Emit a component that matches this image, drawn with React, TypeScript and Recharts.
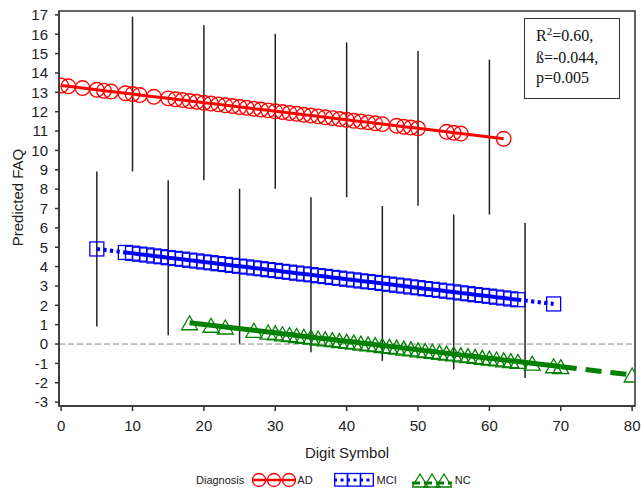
import {
  ScatterChart,
  Scatter,
  XAxis,
  YAxis,
  ReferenceLine,
  ReferenceArea,
} from 'recharts';

const xTicks = [0, 10, 20, 30, 40, 50, 60, 70, 80];
const yTicks = [-3, -2, -1, 0, 1, 2, 3, 4, 5, 6, 7, 8, 9, 10, 11, 12, 13, 14, 15, 16, 17];
const xDomain = [-0.3, 80.4];
const yDomain = [-3.2, 17.2];

// AD (red circles, solid line)
const adX = [0, 1, 3, 5, 6, 7, 9, 10, 11, 13, 15, 16, 17, 18, 19, 20, 21, 22, 23, 24, 25, 26, 27, 28, 29, 30, 31, 32, 33, 34, 35, 36, 37, 38, 39, 40, 41, 42, 43, 44, 45, 47, 48, 49, 50, 54, 55, 56, 62];
const adY = [13.35, 13.31, 13.22, 13.13, 13.08, 13.04, 12.95, 12.91, 12.86, 12.77, 12.69, 12.64, 12.6, 12.55, 12.51, 12.46, 12.42, 12.38, 12.33, 12.29, 12.24, 12.2, 12.15, 12.11, 12.07, 12.02, 11.98, 11.93, 11.89, 11.84, 11.8, 11.76, 11.71, 11.67, 11.62, 11.58, 11.53, 11.49, 11.45, 11.4, 11.36, 11.27, 11.22, 11.18, 11.14, 10.96, 10.91, 10.87, 10.6];

// MCI (blue squares, dotted line)
const mciX = [5, 9, 10, 11, 12, 13, 14, 15, 16, 17, 18, 19, 20, 21, 22, 23, 24, 25, 26, 27, 28, 29, 30, 31, 32, 33, 34, 35, 36, 37, 38, 39, 40, 41, 42, 43, 44, 45, 46, 47, 48, 49, 50, 51, 52, 53, 54, 55, 56, 57, 58, 59, 60, 61, 62, 63, 64, 69];
const mciY = [4.91, 4.73, 4.69, 4.64, 4.6, 4.55, 4.51, 4.46, 4.42, 4.38, 4.33, 4.29, 4.24, 4.2, 4.15, 4.11, 4.06, 4.02, 3.98, 3.93, 3.89, 3.84, 3.8, 3.75, 3.71, 3.66, 3.62, 3.58, 3.53, 3.49, 3.44, 3.4, 3.35, 3.31, 3.26, 3.22, 3.18, 3.13, 3.09, 3.04, 3.0, 2.95, 2.91, 2.86, 2.82, 2.78, 2.73, 2.69, 2.64, 2.6, 2.55, 2.51, 2.47, 2.42, 2.38, 2.33, 2.29, 2.07];

// NC (green triangles, dashed line)
const ncX = [18, 21, 23, 27, 29, 30, 31, 32, 33, 34, 35, 36, 37, 38, 39, 40, 41, 42, 43, 44, 45, 46, 47, 48, 49, 50, 51, 52, 53, 54, 55, 56, 57, 58, 59, 60, 61, 62, 63, 64, 66, 69, 70, 80];
const ncY = [1.1, 0.97, 0.88, 0.71, 0.62, 0.58, 0.53, 0.49, 0.44, 0.4, 0.36, 0.31, 0.27, 0.23, 0.18, 0.14, 0.1, 0.05, 0.01, -0.03, -0.08, -0.12, -0.16, -0.21, -0.25, -0.3, -0.34, -0.38, -0.43, -0.47, -0.51, -0.56, -0.6, -0.64, -0.69, -0.73, -0.77, -0.82, -0.86, -0.9, -0.99, -1.12, -1.17, -1.6];

// vertical interval bars
const barX = [5, 10, 15, 20, 25, 30, 35, 40, 45, 50, 55, 60, 65];
const barLow = [0.91, 8.91, 0.46, 8.46, 0.02, 8.02, -0.42, 7.58, -0.87, 7.14, -1.31, 6.69, -1.75];
const barHigh = [8.91, 16.91, 8.46, 16.46, 8.02, 16.02, 7.58, 15.58, 7.13, 15.14, 6.69, 14.69, 6.25];

const toPts = (xs: number[], ys: number[]) => xs.map((x, i) => ({ x, y: ys[i] }));
const ad = toPts(adX, adY);
const mci = toPts(mciX, mciY);
const nc = toPts(ncX, ncY);

const RED = '#ff0000';
const BLUE = '#0000ff';
const GREEN = '#008000';
const AXIS = '#333333';
const SANS = "'Liberation Sans', Arial, sans-serif";

const CircleMark = (p: any) => (
  <circle cx={p.cx} cy={p.cy} r={7.3} fill="none" stroke={RED} strokeWidth={1.3} />
);
const SquareMark = (p: any) => (
  <rect x={p.cx - 7} y={p.cy - 7} width={14} height={14} fill="none" stroke={BLUE} strokeWidth={1.3} />
);
const TriMark = (p: any) => (
  <path
    d={`M${p.cx},${p.cy - 7}L${p.cx + 8},${p.cy + 7}L${p.cx - 8},${p.cy + 7}Z`}
    fill="none"
    stroke={GREEN}
    strokeWidth={1.3}
  />
);
const NoMark = () => <g />;

const YTitle = (props: any) => {
  const vb = props.viewBox || { x: 14, y: 11, width: 45, height: 395 };
  const x = vb.x + 9.3;
  const y = vb.y + vb.height / 2 - 11;
  return (
    <text
      x={x}
      y={y}
      transform={`rotate(-90, ${x}, ${y})`}
      textAnchor="middle"
      fill="#222"
      fontSize={15}
      fontFamily={SANS}
    >
      Predicted FAQ
    </text>
  );
};

const legendText = { fontSize: 11, color: '#222', fontFamily: SANS };

export default function App() {
  return (
    <div style={{ position: 'fixed', left: 0, top: 0, width: 641, height: 490, background: '#fff' }}>
      <ScatterChart width={641} height={490} margin={{ top: 11, right: 6, left: 14, bottom: 0 }}>
        <XAxis
          type="number"
          dataKey="x"
          domain={xDomain}
          allowDataOverflow
          ticks={xTicks}
          interval={0}
          height={84}
          tickSize={5}
          tickMargin={9}
          stroke={AXIS}
          strokeWidth={1.5}
          tick={{ fill: '#222', fontSize: 15, fontFamily: SANS }}
          label={{ value: 'Digit Symbol', position: 'insideTop', offset: 41.7, fill: '#222', fontSize: 15, fontFamily: SANS }}
        />
        <YAxis
          type="number"
          dataKey="y"
          domain={yDomain}
          allowDataOverflow
          ticks={yTicks}
          interval={0}
          width={45}
          tickSize={4}
          tickMargin={7}
          stroke={AXIS}
          strokeWidth={1.5}
          tick={{ fill: '#222', fontSize: 15, fontFamily: SANS }}
          label={<YTitle />}
        />
        <ReferenceArea
          x1={xDomain[0]}
          x2={xDomain[1]}
          y1={yDomain[0]}
          y2={yDomain[1]}
          fill="none"
          fillOpacity={0}
          stroke={AXIS}
          strokeWidth={1.5}
        />
        <ReferenceLine y={0} stroke="#888" strokeWidth={1} strokeDasharray="6 3" />

        <Scatter data={ad} fill={RED} shape={CircleMark} isAnimationActive={false} />
        <Scatter data={ad} fill={RED} shape={NoMark} line={{ stroke: RED, strokeWidth: 3 }} isAnimationActive={false} />

        <Scatter data={mci} fill={BLUE} shape={SquareMark} isAnimationActive={false} />
        <Scatter data={mci.slice(1, -1)} fill={BLUE} shape={NoMark} line={{ stroke: BLUE, strokeWidth: 4 }} isAnimationActive={false} />
        <Scatter data={mci.slice(0, 2)} fill={BLUE} shape={NoMark} line={{ stroke: BLUE, strokeWidth: 4, strokeDasharray: '3.3 3.3' }} isAnimationActive={false} />
        <Scatter data={mci.slice(-2)} fill={BLUE} shape={NoMark} line={{ stroke: BLUE, strokeWidth: 4, strokeDasharray: '3.3 3.3' }} isAnimationActive={false} />

        <Scatter data={nc} fill={GREEN} shape={TriMark} isAnimationActive={false} />
        <Scatter data={nc.slice(0, -1)} fill={GREEN} shape={NoMark} line={{ stroke: GREEN, strokeWidth: 5 }} isAnimationActive={false} />
        <Scatter data={nc.slice(-2)} fill={GREEN} shape={NoMark} line={{ stroke: GREEN, strokeWidth: 5, strokeDasharray: '16 9' }} isAnimationActive={false} />

        {barX.map((x, i) => (
          <ReferenceLine
            key={x}
            segment={[{ x, y: barLow[i] }, { x, y: barHigh[i] }]}
            stroke="#222"
            strokeWidth={1.5}
          />
        ))}
      </ScatterChart>

      <div
        style={{
          position: 'absolute',
          left: 524,
          top: 18,
          width: 96,
          height: 81,
          border: '1.5px solid #333',
          background: '#fff',
          fontFamily: "'Liberation Serif', 'Times New Roman', serif",
          fontSize: 16,
          lineHeight: '20.5px',
          color: '#111',
          paddingTop: 7,
          paddingLeft: 11,
          boxSizing: 'border-box',
        }}
      >
        <div>
          R<span style={{ fontSize: 11, position: 'relative', top: -6 }}>2</span>=0.60,
        </div>
        <div>ß=-0.044,</div>
        <div>p=0.005</div>
      </div>

      <div style={{ position: 'absolute', left: 196, top: 472, display: 'flex', alignItems: 'center', height: 16 }}>
        <span style={legendText}>Diagnosis</span>
        <svg width={44} height={16} style={{ marginLeft: 8 }}>
          <line x1={0} y1={8} x2={44} y2={8} stroke={RED} strokeWidth={2.5} />
          {[7, 22, 37].map((c) => (
            <circle key={c} cx={c} cy={8} r={6.5} fill="none" stroke={RED} strokeWidth={1.3} />
          ))}
        </svg>
        <span style={{ ...legendText, marginLeft: 1 }}>AD</span>
        <svg width={40} height={16} style={{ marginLeft: 21 }}>
          {[0.7, 13.7, 26.7].map((c) => (
            <rect key={c} x={c} y={1.5} width={12.6} height={12.6} fill="none" stroke={BLUE} strokeWidth={1.3} />
          ))}
          <line x1={0} y1={8} x2={40} y2={8} stroke={BLUE} strokeWidth={3} strokeDasharray="3 3.5" />
        </svg>
        <span style={{ ...legendText, marginLeft: 3 }}>MCI</span>
        <svg width={40} height={16} style={{ marginLeft: 15 }}>
          {[8, 20, 32].map((c) => (
            <path key={c} d={`M${c},2L${c + 8},15L${c - 8},15Z`} fill="none" stroke={GREEN} strokeWidth={1.3} />
          ))}
          <line x1={0} y1={11} x2={40} y2={11} stroke={GREEN} strokeWidth={3} strokeDasharray="8 4" />
        </svg>
        <span style={{ ...legendText, marginLeft: 3 }}>NC</span>
      </div>
    </div>
  );
}
